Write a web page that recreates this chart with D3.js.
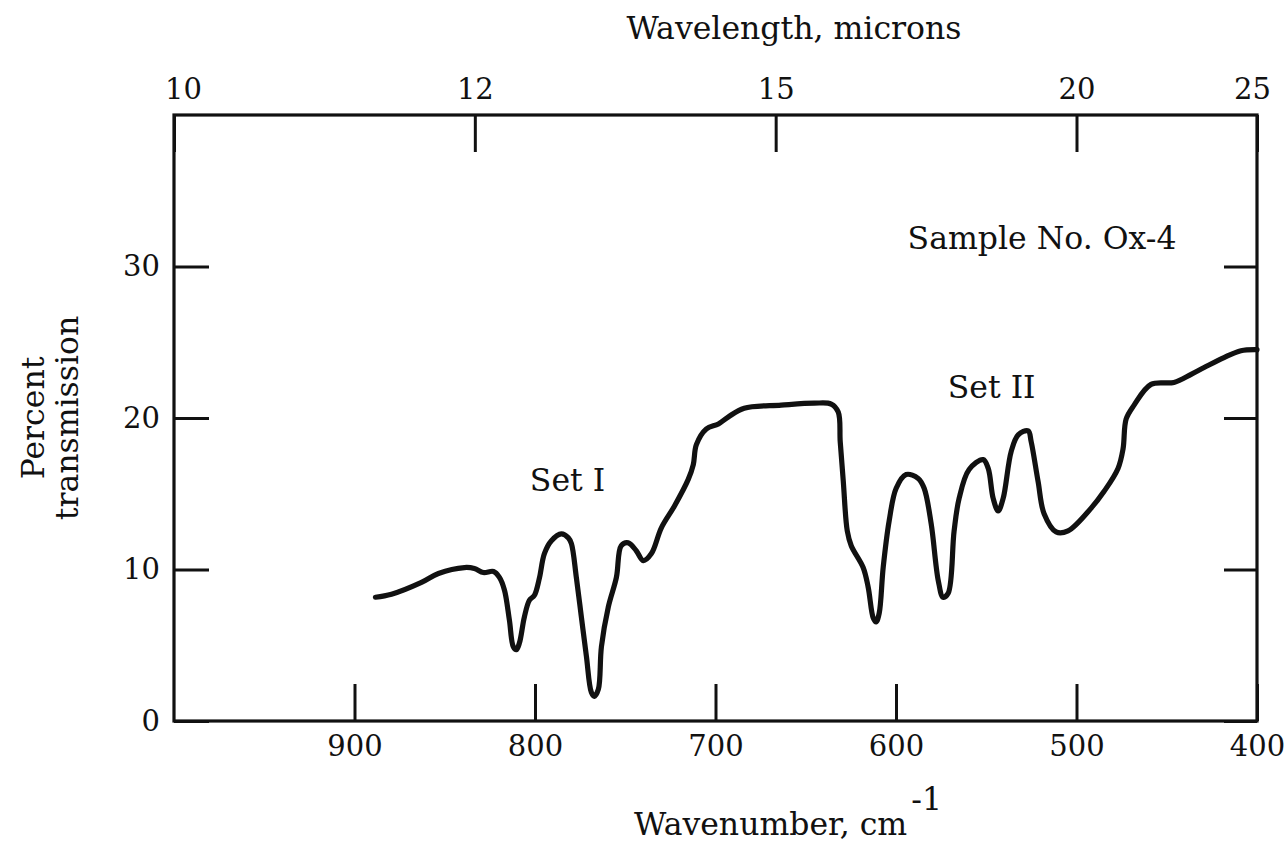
<!DOCTYPE html>
<html>
<head>
<meta charset="utf-8">
<script src="https://cdn.jsdelivr.net/npm/d3@7"></script>
<style>
  html, body { margin: 0; padding: 0; background: #fff; }
  svg text { font-family: "DejaVu Serif", "Liberation Serif", serif; fill: #111; }
</style>
</head>
<body>
<svg id="chart" width="1284" height="846"></svg>
<script>
// Infrared transmission spectrum, sample Ox-4
const wavenumber = [
  888.4, 879.5, 862.9, 853.5, 839.1, 833.6, 828.6, 823.0, 819.7, 816.9,
  814.2, 812.0, 810.3, 808.6, 805.9, 803.1, 800.3, 797.6, 794.8, 790.9,
  785.4, 781.5, 779.8, 777.1, 774.3, 771.5, 768.8, 767.1, 764.9, 763.2,
  759.4, 754.9, 752.2, 748.3, 743.9, 740.0, 735.5, 730.0, 722.8, 715.1,
  712.3, 710.6, 705.1, 698.4, 692.9, 684.1, 663.6, 645.3, 635.9, 632.0,
  630.9, 629.2, 627.0, 624.8, 618.2, 615.4, 612.6, 611.0, 609.3, 607.1,
  603.8, 599.9, 594.4, 587.7, 584.4, 580.5, 576.6, 573.9, 571.1, 567.8,
  565.0, 559.5, 551.7, 548.9, 546.2, 543.4, 540.6, 536.2, 532.3, 526.8,
  525.1, 521.3, 517.9, 511.3, 504.7, 491.9, 484.7, 477.0, 474.2, 472.5,
  468.1, 458.7, 446.0, 436.5, 429.3, 418.3, 408.9, 400.0
];
const transmission = [
  8.17, 8.37, 9.15, 9.74, 10.13, 10.07, 9.80, 9.87, 9.48, 8.63,
  6.67, 4.90, 4.71, 5.16, 6.86, 7.97, 8.30, 9.41, 11.05, 11.90,
  12.35, 12.09, 11.70, 9.48, 6.86, 4.25, 1.90, 1.63, 2.09, 4.90,
  7.52, 9.48, 11.57, 11.76, 11.24, 10.59, 11.05, 12.75, 14.18, 15.95,
  16.93, 18.24, 19.28, 19.61, 20.07, 20.65, 20.85, 20.98, 20.92, 20.39,
  18.43, 15.82, 12.55, 11.57, 10.13, 8.82, 6.80, 6.54, 7.12, 10.13,
  13.20, 15.36, 16.27, 16.01, 15.36, 13.01, 9.28, 8.17, 8.43, 12.55,
  14.71, 16.60, 17.25, 16.67, 14.71, 13.86, 14.71, 17.78, 18.89, 19.15,
  18.43, 15.82, 13.66, 12.48, 12.55, 14.05, 15.16, 16.67, 17.97, 19.93,
  20.85, 22.22, 22.35, 22.88, 23.33, 23.99, 24.44, 24.51
];

// Axis ticks
const wavenumberTicks = [900, 800, 700, 600, 500, 400];
const wavelengthTicks = [10, 12, 15, 20, 25];   // microns
const transmissionTicks = [0, 10, 20, 30];

// Annotations
const bandLabels = [
  { text: "Set I", wn: 782, t: 15.2 },
  { text: "Set II", wn: 547, t: 21.3 }
];

const svg = d3.select("#chart");
const ink = "#111";
const tickFont = 29;
const labelFont = 31.5;

const x = d3.scaleLinear().domain([1000, 400]).range([174, 1257]);
const y = d3.scaleLinear().domain([0, 40]).range([721, 115]);

// Bottom axis: wavenumber
const gBottom = svg.append("g")
  .attr("transform", `translate(0,${y(0)})`)
  .call(d3.axisBottom(x).tickValues(wavenumberTicks).tickSizeInner(-37).tickSizeOuter(0).tickPadding(14));

// Top axis: wavelength in microns, placed at 10^4 / lambda
const gTop = svg.append("g")
  .attr("transform", `translate(0,${y(40)})`)
  .call(d3.axisTop(x)
    .tickValues(wavelengthTicks.map(l => 1e4 / l))
    .tickFormat(d => String(Math.round(1e4 / d)))
    .tickSizeInner(-37).tickSizeOuter(0).tickPadding(16));

// Left axis: percent transmission
const gLeft = svg.append("g")
  .attr("transform", `translate(${x(1000)},0)`)
  .call(d3.axisLeft(y).tickValues(transmissionTicks).tickSizeInner(-35).tickSizeOuter(0).tickPadding(14));

// Right axis: ticks only
const gRight = svg.append("g")
  .attr("transform", `translate(${x(400)},0)`)
  .call(d3.axisRight(y).tickValues(transmissionTicks).tickFormat("").tickSizeInner(-33).tickSizeOuter(0));

[gBottom, gTop, gLeft, gRight].forEach(g => {
  g.select(".domain").remove();
  g.selectAll(".tick line").attr("stroke", ink).attr("stroke-width", 3);
  g.selectAll(".tick text")
    .attr("font-family", "DejaVu Serif, Liberation Serif, serif")
    .attr("font-size", tickFont)
    .attr("fill", ink);
});

// Nudge the end labels of the top axis inside the frame corners
gTop.selectAll(".tick text").attr("dx", d => {
  const l = Math.round(1e4 / d);
  return l === 10 ? 9 : (l === 25 ? -5 : 0);
});

// Frame
svg.append("rect")
  .attr("x", x(1000)).attr("y", y(40))
  .attr("width", x(400) - x(1000)).attr("height", y(0) - y(40))
  .attr("fill", "none").attr("stroke", ink).attr("stroke-width", 3.2);

// Spectrum trace
const points = wavenumber.map((w, i) => [x(w), y(transmission[i])]);
svg.append("path")
  .attr("d", d3.line().curve(d3.curveCatmullRom.alpha(0.5))(points))
  .attr("fill", "none")
  .attr("stroke", ink)
  .attr("stroke-width", 5.2)
  .attr("stroke-linejoin", "round")
  .attr("stroke-linecap", "round");

// Titles
svg.append("text")
  .attr("x", 794).attr("y", 39)
  .attr("text-anchor", "middle").attr("font-size", labelFont)
  .text("Wavelength, microns");

const xt = svg.append("text")
  .attr("x", 634).attr("y", 835)
  .attr("text-anchor", "start").attr("font-size", labelFont);
xt.append("tspan").text("Wavenumber, cm");
xt.append("tspan").attr("dy", -25).attr("dx", 4).text("-1");

svg.append("text")
  .attr("transform", "translate(44,418) rotate(-90)")
  .attr("text-anchor", "middle").attr("font-size", labelFont)
  .text("Percent");
svg.append("text")
  .attr("transform", "translate(78,418) rotate(-90)")
  .attr("text-anchor", "middle").attr("font-size", labelFont)
  .text("transmission");

svg.append("text")
  .attr("x", 1042).attr("y", 249)
  .attr("text-anchor", "middle").attr("font-size", labelFont)
  .text("Sample No. Ox-4");

svg.selectAll("text.band")
  .data(bandLabels)
  .enter().append("text")
  .attr("class", "band")
  .attr("x", d => x(d.wn)).attr("y", d => y(d.t))
  .attr("text-anchor", "middle").attr("font-size", labelFont)
  .text(d => d.text);
</script>
</body>
</html>
